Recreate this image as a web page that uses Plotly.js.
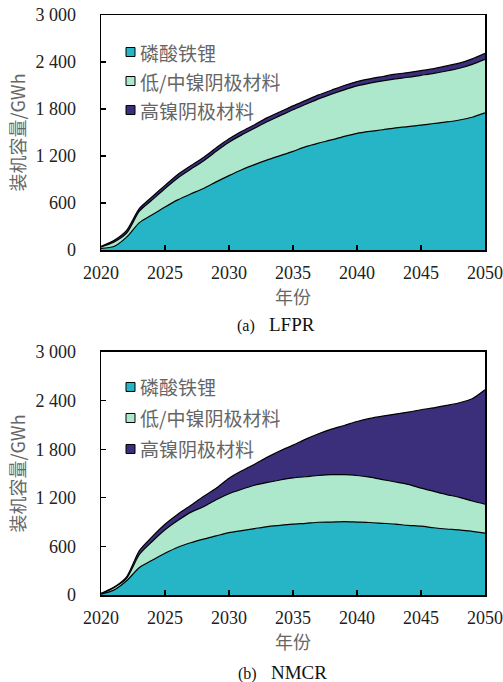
<!DOCTYPE html>
<html>
<head>
<meta charset="utf-8">
<script src="https://cdn.plot.ly/plotly-3.0.1.min.js"></script>
<style>html,body{margin:0;padding:0;background:#fff;}#chart{width:503px;height:682px;}</style>
</head>
<body>
<div id="chart"></div>
<script>
const years = [2020,2021,2022,2023,2024,2025,2026,2027,2028,2029,2030,2031,2032,2033,2034,2035,2036,2037,2038,2039,2040,2041,2042,2043,2044,2045,2046,2047,2048,2049,2050];

const seriesNames = ['磷酸铁锂','低/中镍阴极材料','高镍阴极材料'];
const seriesColors = ['#26B5C6','#ADE8CC','#3B2F7C'];

// (a) LFPR scenario, GWh
const lfprLFP  = [20,45,165,350,450,550,640,715,785,870,950,1025,1090,1150,1205,1260,1320,1365,1405,1450,1490,1515,1535,1560,1575,1595,1615,1635,1660,1695,1750];
const lfprLowMidNi = [20,55,50,145,190,235,280,315,350,390,425,445,465,490,510,530,540,565,585,595,605,615,625,625,630,635,640,650,660,675,685];
const lfprHighNi = [5,20,35,35,40,40,45,45,45,45,45,45,45,50,50,50,50,50,50,55,55,55,55,60,60,60,60,65,65,70,75];

// (b) NMCR scenario, GWh
const nmcrLFP  = [10,60,175,340,430,515,590,645,690,730,770,795,820,845,860,875,885,898,900,905,900,895,885,875,860,850,830,815,805,785,765];
const nmcrLowMidNi = [5,30,30,160,230,290,330,375,400,445,480,510,535,545,560,570,575,577,585,580,575,560,540,520,505,470,450,425,400,375,355];
const nmcrHighNi = [5,5,20,48,60,68,77,84,125,143,192,228,260,312,360,405,464,515,563,608,667,725,783,838,893,967,1031,1100,1168,1263,1414];

const yTickVals = [0,600,1200,1800,2400,3000];
const yTickText = ['0','600','1 200','1 800','2 400','3 000'];
const xTickVals = [2020,2025,2030,2035,2040,2045,2050];

const yTitle = '装机容量/GWh';
const xTitle = '年份';
const captions = ['<span style="font-size:16px">(a)</span>   LFPR','<span style="font-size:16px">(b)</span>   NMCR'];

const traces = [];
function addGroup(vals, xa, ya, grp){
  vals.forEach((v,i)=>{
    traces.push({
      x: years, y: v, xaxis: xa, yaxis: ya, type:'scatter', mode:'lines',
      stackgroup: grp, name: seriesNames[i], showlegend:false,
      fillcolor: seriesColors[i],
      line:{color:'#000', width:1.2, shape:'spline', smoothing:0.7}
    });
  });
}
addGroup([lfprLFP, lfprLowMidNi, lfprHighNi], 'x', 'y', 'a');
addGroup([nmcrLFP, nmcrLowMidNi, nmcrHighNi], 'x2', 'y2', 'b');

const serif = 'Liberation Serif, Times New Roman, serif';
const tickFont = {family:serif, size:18, color:'#222'};
const titleFont = {family:'Noto Sans CJK SC, sans-serif', size:18, color:'#666'};

function xax(anchor){
  return {
    anchor: anchor, domain:[0,1], range:[2020,2050], tickvals:xTickVals,
    ticks:'inside', ticklen:5, tickwidth:1.2, tickcolor:'#000',
    showline:true, linecolor:'#000', linewidth:1.5, mirror:true,
    showgrid:false, zeroline:false, tickfont:tickFont, ticklabelstandoff:6,
    title:{text:xTitle, font:titleFont, standoff:3}
  };
}
function yax(anchor, dom){
  return {
    anchor: anchor, domain:dom, range:[0,3000], tickvals:yTickVals, ticktext:yTickText,
    ticks:'inside', ticklen:5, tickwidth:1.2, tickcolor:'#000',
    showline:true, linecolor:'#000', linewidth:1.5, mirror:true,
    showgrid:false, zeroline:false, tickfont:tickFont, ticklabelstandoff:20,
    title:{text:yTitle, font:titleFont, standoff:5}
  };
}

const shapes = [];
const annotations = [];
[['x','y'],['x2','y2']].forEach(([xa,ya])=>{
  const dyPx = (ya==='y') ? 235 : 243;
  const topPx = (ya==='y') ? [37,66,95] : [35,66,97];
  seriesNames.forEach((nm,i)=>{
    const cy = 1 - topPx[i]/dyPx;
    const h = 9/dyPx;
    shapes.push({type:'rect', xref:xa+' domain', yref:ya+' domain',
      x0:25/384, x1:34/384, y0:cy-h/2, y1:cy+h/2,
      fillcolor:seriesColors[i], line:{color:'#000', width:1}});
    annotations.push({xref:xa+' domain', yref:ya+' domain', x:37/384, y:cy,
      xanchor:'left', yanchor:'middle', showarrow:false, text:nm,
      font:{family:'Noto Sans CJK SC, sans-serif', size:19, color:'#666'}});
  });
});
annotations.push({xref:'paper', yref:'paper', x:(276-101)/384, y:(595-324)/580, xanchor:'center', yanchor:'middle',
  showarrow:false, text:captions[0], font:{family:serif, size:19, color:'#111'}});
annotations.push({xref:'paper', yref:'paper', x:(282-101)/384, y:(595-672)/580, xanchor:'center', yanchor:'middle',
  showarrow:false, text:captions[1], font:{family:serif, size:19, color:'#111'}});

const layout = {
  width:503, height:682,
  margin:{l:101, r:18, t:15, b:87},
  paper_bgcolor:'#fff', plot_bgcolor:'#fff',
  showlegend:false,
  xaxis: xax('y'), yaxis: yax('x',[0.5948,1]),
  xaxis2: xax('y2'), yaxis2: yax('x2',[0,0.419]),
  shapes: shapes, annotations: annotations
};

Plotly.newPlot('chart', traces, layout, {displayModeBar:false, staticPlot:true});
</script>
</body>
</html>
